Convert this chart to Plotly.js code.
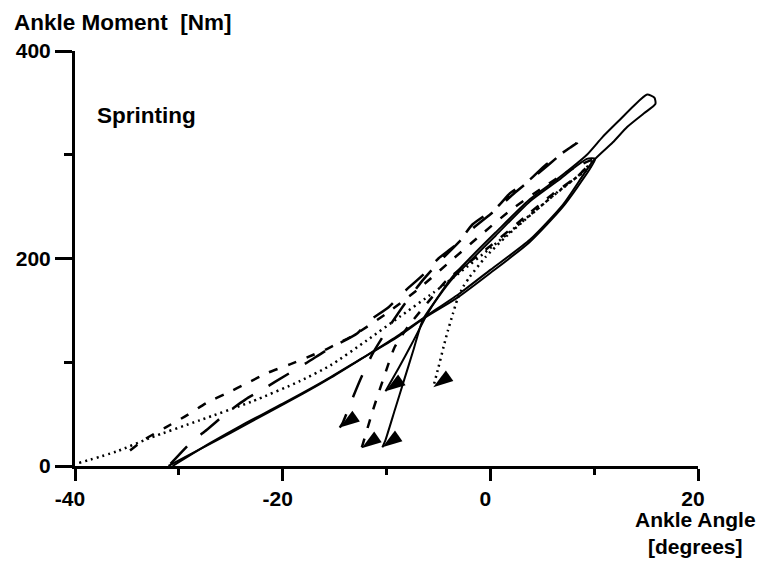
<!DOCTYPE html>
<html>
<head>
<meta charset="utf-8">
<script src="https://cdn.plot.ly/plotly-3.0.1.min.js"></script>
<style>html,body{margin:0;padding:0;background:#fff;}#chart{width:763px;height:562px;}</style>
</head>
<body>
<div id="chart"></div>
<script>
// ---- Data (ankle angle [deg], ankle moment [Nm]) ----
var solidAX = [-31.0, -28, -25, -21.5, -18, -15.4, -12, -9, -6.1, -3, 0, 3.8, 7, 9.9, 11.8, 13.2, 14.8, 15.9, 15.8, 15.1, 13.8, 12.5, 10.8, 9.3, 6.5, 3.8, 0.5, -2, -3.6, -5.1, -6.1, -7.5, -8.8, -10.1];
var solidAY = [0, 16, 32, 51, 70, 85, 106, 125, 145, 166, 189, 218, 252, 294, 312, 327, 340, 349, 355, 358, 347, 334, 317, 300, 277, 257, 225, 200, 183, 162, 146, 119, 95, 72];

var solidBX = [-30.6, -27, -24, -20, -16, -12.5, -9, -6.3, -3.2, 0, 3.8, 7, 9.5, 10.1, 9.3, 6.5, 3.8, 0.5, -2, -3.6, -5, -6.5, -7.4, -8.3, -9.2, -10.1, -10.4];
var solidBY = [0, 22, 39, 60, 82, 103, 124, 143, 162, 186, 216, 250, 285, 296, 296, 275, 255, 222, 197, 181, 163, 141, 112, 83, 54, 25, 18];

var longDashX = [-30.8, -28.9, -27.3, -25.4, -23.6, -21.9, -19.6, -17.6, -15.7, -12.8, -11.8, -9.8, -8.4, -6.3, -5, -3.1, -1.7, 0.7, 1.9, 3.8, 5.3, 7.7, 8.3, 7, 4.5, 2.2, 0.3, -1.8, -3.5, -5, -6.6, -8.2, -9.7, -11.3, -12.4, -13.2, -14.2, -14.5];
var longDashY = [2, 22, 35, 51, 64, 74, 88, 100, 112, 128, 139, 153, 167, 186, 200, 215, 233, 250, 263, 276, 290, 307, 311, 302, 281, 262, 245, 228, 211, 196, 178, 157, 135, 109, 86, 67, 42, 37];

var shortDashX = [-34.7, -33.4, -31.3, -29.2, -27.3, -25.4, -23.4, -21.4, -19.3, -17.1, -15.7, -13, -10, -7, -4, -1, 2, 5, 8, 9.8, 8.6, 6, 3.8, 0, -2.1, -4.2, -6, -7.8, -9.2, -10.1, -11.3, -12.4];
var shortDashY = [15, 25, 37, 49, 61, 70, 80, 90, 98, 107, 113, 127, 147, 170, 196, 222, 247, 268, 287, 295, 281, 262, 244, 212, 196, 179, 158, 136, 115, 90, 54, 17];

var dottedX = [-39.6, -36, -32.8, -28, -23, -18.3, -15.4, -11.9, -8.7, -5.5, -3, 0, 3, 6, 8.5, 9.8, 9.6, 8, 6.7, 4, 1.5, -0.5, -2, -2.6, -3.2, -3.6, -4.1, -4.5, -5, -5.5];
var dottedY = [3, 14, 27, 44, 62, 82, 97, 121, 144, 167, 186, 210, 235, 260, 280, 293, 288, 276, 266, 243, 221, 201, 182, 173, 160, 147, 130, 115, 95, 76];

var xTickVals = [-40, -20, 0, 20];
var xTickText = ['-40', '-20', '0', '20'];
var xMinorVals = [-30, -10, 10];
var yTickVals = [0, 200, 400];
var yTickText = ['0', '200', '400'];
var yMinorVals = [100, 300];
var xRange = [-40, 20];
var yRange = [0, 400];

var FONT = 'Liberation Sans, Arial, Helvetica, sans-serif';

function curve(xs, ys, dash, width) {
  var sizes = xs.map(function (_, i) { return i === xs.length - 1 ? 21 : 0; });
  return {
    x: xs, y: ys, type: 'scatter', mode: 'lines+markers',
    line: {color: '#000', width: width, dash: dash, shape: 'spline', smoothing: 0.6},
    marker: {symbol: 'arrow', size: sizes, color: '#000', opacity: 1, angle: 235, line: {width: 0}},
    showlegend: false, hoverinfo: 'skip'
  };
}

var traces = [
  curve(solidAX, solidAY, 'solid', 2),
  curve(solidBX, solidBY, 'solid', 2),
  curve(longDashX, longDashY, '24px,18px', 2.5),
  curve(shortDashX, shortDashY, '9px,11px', 2.5),
  curve(dottedX, dottedY, '2px,4px', 2.5)
];

var tickFont = {family: FONT, size: 21, weight: 'bold', color: '#000'};

var layout = {
  width: 763, height: 562,
  margin: {l: 75, r: 65, t: 51, b: 96, pad: 0},
  paper_bgcolor: '#fff', plot_bgcolor: '#fff',
  font: {family: FONT, color: '#000'},
  xaxis: {
    range: xRange, tickmode: 'array', tickvals: xTickVals, ticktext: xTickText,
    ticks: 'outside', ticklen: 12, tickwidth: 3, tickcolor: '#000',
    showline: true, linewidth: 3, linecolor: '#000',
    showgrid: false, zeroline: false, fixedrange: true,
    ticklabelshift: -5, tickfont: tickFont,
    minor: {tickmode: 'array', tickvals: xMinorVals, ticks: 'outside', ticklen: 6, tickwidth: 3, tickcolor: '#000', showgrid: false}
  },
  yaxis: {
    range: yRange, tickmode: 'array', tickvals: yTickVals, ticktext: yTickText,
    ticks: 'outside', ticklen: 17, tickwidth: 3, tickcolor: '#000',
    showline: true, linewidth: 3, linecolor: '#000',
    showgrid: false, zeroline: false, fixedrange: true,
    tickfont: tickFont,
    minor: {tickmode: 'array', tickvals: yMinorVals, ticks: 'outside', ticklen: 8, tickwidth: 3, tickcolor: '#000', showgrid: false}
  },
  annotations: [
    {text: 'Ankle Moment\u00A0 [Nm]', xref: 'paper', yref: 'paper', x: -0.101, y: 1.0675,
     xanchor: 'left', yanchor: 'middle', showarrow: false,
     font: {family: FONT, size: 22.5, weight: 'bold', color: '#000'}},
    {text: 'Sprinting', xref: 'x', yref: 'y', x: -38.1, y: 338,
     xanchor: 'left', yanchor: 'middle', showarrow: false,
     font: {family: FONT, size: 22.5, weight: 'bold', color: '#000'}},
    {text: 'Ankle Angle<br>[degrees]', xref: 'x', yref: 'paper', x: 19.8, y: -0.162,
     xanchor: 'center', yanchor: 'middle', showarrow: false, align: 'center',
     font: {family: FONT, size: 21, weight: 'bold', color: '#000'}}
  ]
};

Plotly.newPlot('chart', traces, layout, {staticPlot: true, displayModeBar: false});
</script>
</body>
</html>
